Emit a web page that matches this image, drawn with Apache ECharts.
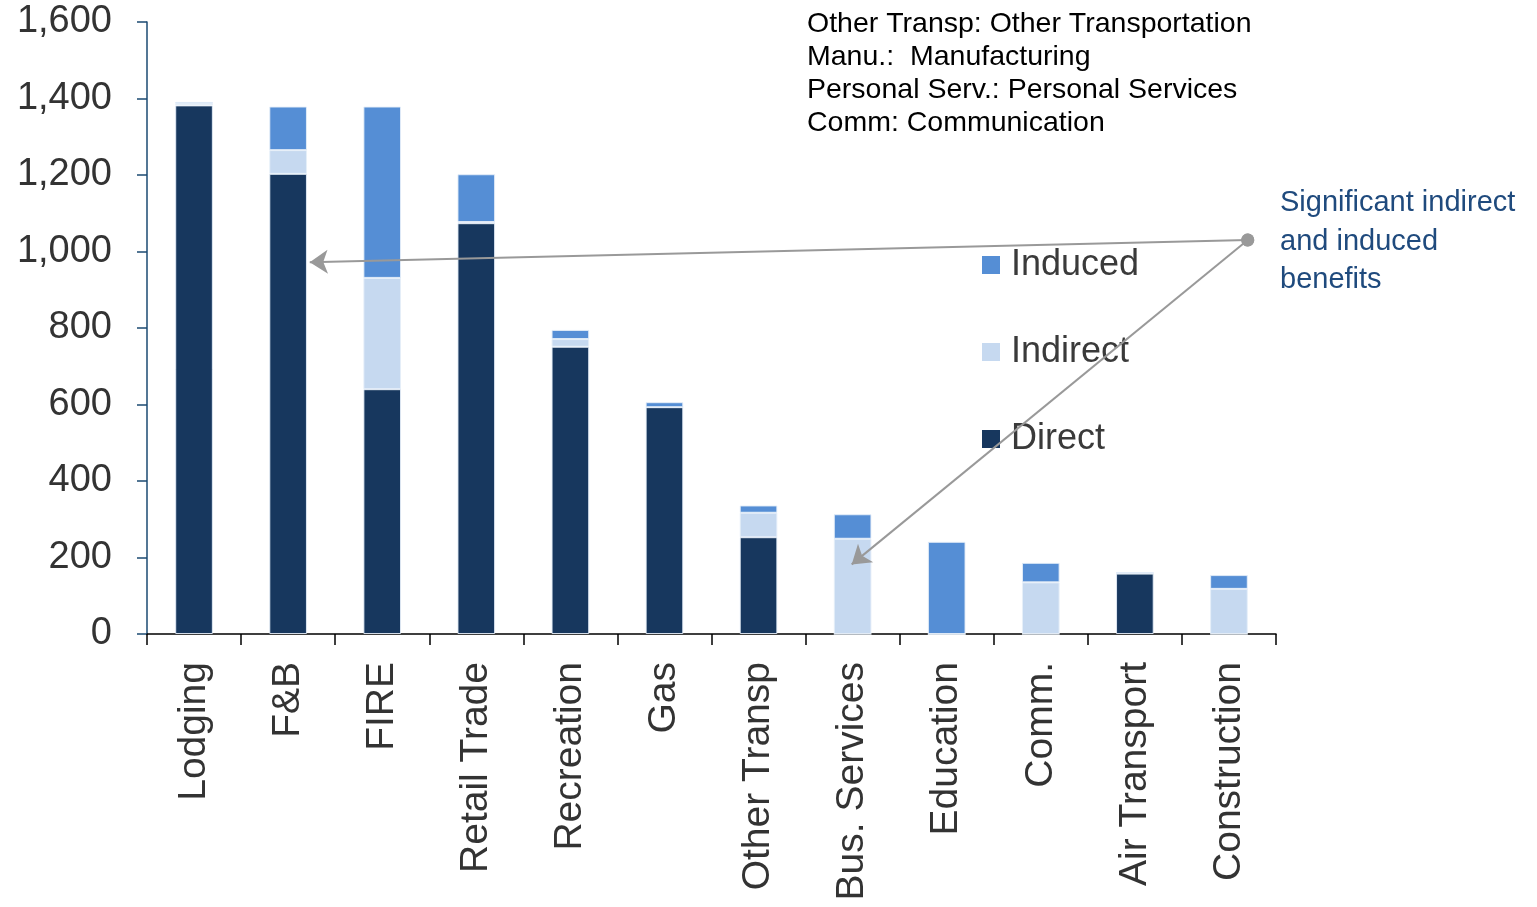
<!DOCTYPE html>
<html>
<head>
<meta charset="utf-8">
<script src="https://cdn.jsdelivr.net/npm/echarts@6/dist/echarts.min.js"></script>
<style>
html,body{margin:0;padding:0;background:#fff;}
#chart{width:1537px;height:907px;}
</style>
</head>
<body>
<div id="chart"></div>
<script>
const categories = ['Lodging','F&B','FIRE','Retail Trade','Recreation','Gas','Other Transp','Bus. Services','Education','Comm.','Air Transport','Construction'];
const direct   = [1382,1203,640,1074,751,593,253,0,0,0,158,0];
const indirect = [4,62,291,3,20,0,64,249,0,135,0,118];
const induced  = [5,114,448,125,24,13,19,64,241,51,4,36];
const yTicks = {min:0, max:1600, interval:200};
const notes = ['Bus. Serv.: Business Services','Other Transp: Other Transportation','Manu.:  Manufacturing','Personal Serv.: Personal Services','Comm: Communication'];
const annotationText = ['Significant indirect','and induced','benefits'];
// annotation arrow anchors in data space (fractional category index, value)
const arrowStart = [11.2, 1030];
const arrowEnds = [[1.23, 972], [6.99, 182]];

const colors = {direct:'#17375E', indirect:'#C6D9F0', induced:'#558ED5'};
const font = '"Liberation Sans", Arial, sans-serif';

const chart = echarts.init(document.getElementById('chart'), null, {renderer:'canvas'});
const barStyle = c => ({color:c, borderColor:'rgba(230,238,248,0.9)', borderWidth:1});

chart.setOption({
  animation:false,
  backgroundColor:'#fff',
  textStyle:{fontFamily:font},
  grid:{left:147, right:261, top:22, bottom:273, containLabel:false},
  legend:{
    data:['Induced','Indirect','Direct'],
    orient:'vertical', left:982, top:245, padding:0,
    icon:'rect', itemWidth:18, itemHeight:18, itemGap:47,
    itemStyle:{borderWidth:0},
    textStyle:{fontSize:36, color:'#3a3a3a', fontFamily:font, lineHeight:40, padding:[0,0,0,6]}
  },
  xAxis:[{
    type:'category', data:categories, boundaryGap:true,
    axisLine:{lineStyle:{color:'#000', width:1.5}},
    axisTick:{show:true, length:11, interval:0, lineStyle:{color:'#000', width:1.5}},
    axisLabel:{rotate:90, interval:0, margin:28, fontSize:39, color:'#333', fontFamily:font}
  },{
    type:'value', min:-0.5, max:11.5, show:false
  }],
  yAxis:{
    type:'value', min:yTicks.min, max:yTicks.max, interval:yTicks.interval,
    splitLine:{show:false},
    axisLine:{show:true, onZero:false, lineStyle:{color:'#1b4a72', width:1.5}},
    axisTick:{show:true, length:10, lineStyle:{color:'#1b4a72', width:1.5}},
    axisLabel:{fontSize:38, color:'#333', margin:35, fontFamily:font, padding:[5,0,0,0],
      formatter:v=>v.toLocaleString('en-US')}
  },
  series:[
    {name:'Direct', type:'bar', stack:'t', data:direct, barWidth:'40%', itemStyle:barStyle(colors.direct)},
    {name:'Indirect', type:'bar', stack:'t', data:indirect, barWidth:'40%', itemStyle:barStyle(colors.indirect)},
    {name:'Induced', type:'bar', stack:'t', data:induced, barWidth:'40%', itemStyle:barStyle(colors.induced)},
    {
      name:'arrows', type:'lines', coordinateSystem:'cartesian2d', xAxisIndex:1, yAxisIndex:0,
      symbol:['circle','arrow'], symbolSize:[13,18], silent:true, z:10,
      lineStyle:{color:'#999', width:2, opacity:1, curveness:0},
      itemStyle:{color:'#999'},
      data:arrowEnds.map(e=>({coords:[arrowStart, e]}))
    }
  ],
  graphic:[
    {type:'text', left:807, top:-25, z:20, style:{text:notes.join('\n'), font:'28.5px '+font, fill:'#000', lineHeight:33}},
    {type:'text', left:1280, top:184, z:20, style:{text:annotationText.join('\n'), font:'29px '+font, fill:'#1F4A7D', lineHeight:38.5}}
  ]
});
</script>
</body>
</html>
